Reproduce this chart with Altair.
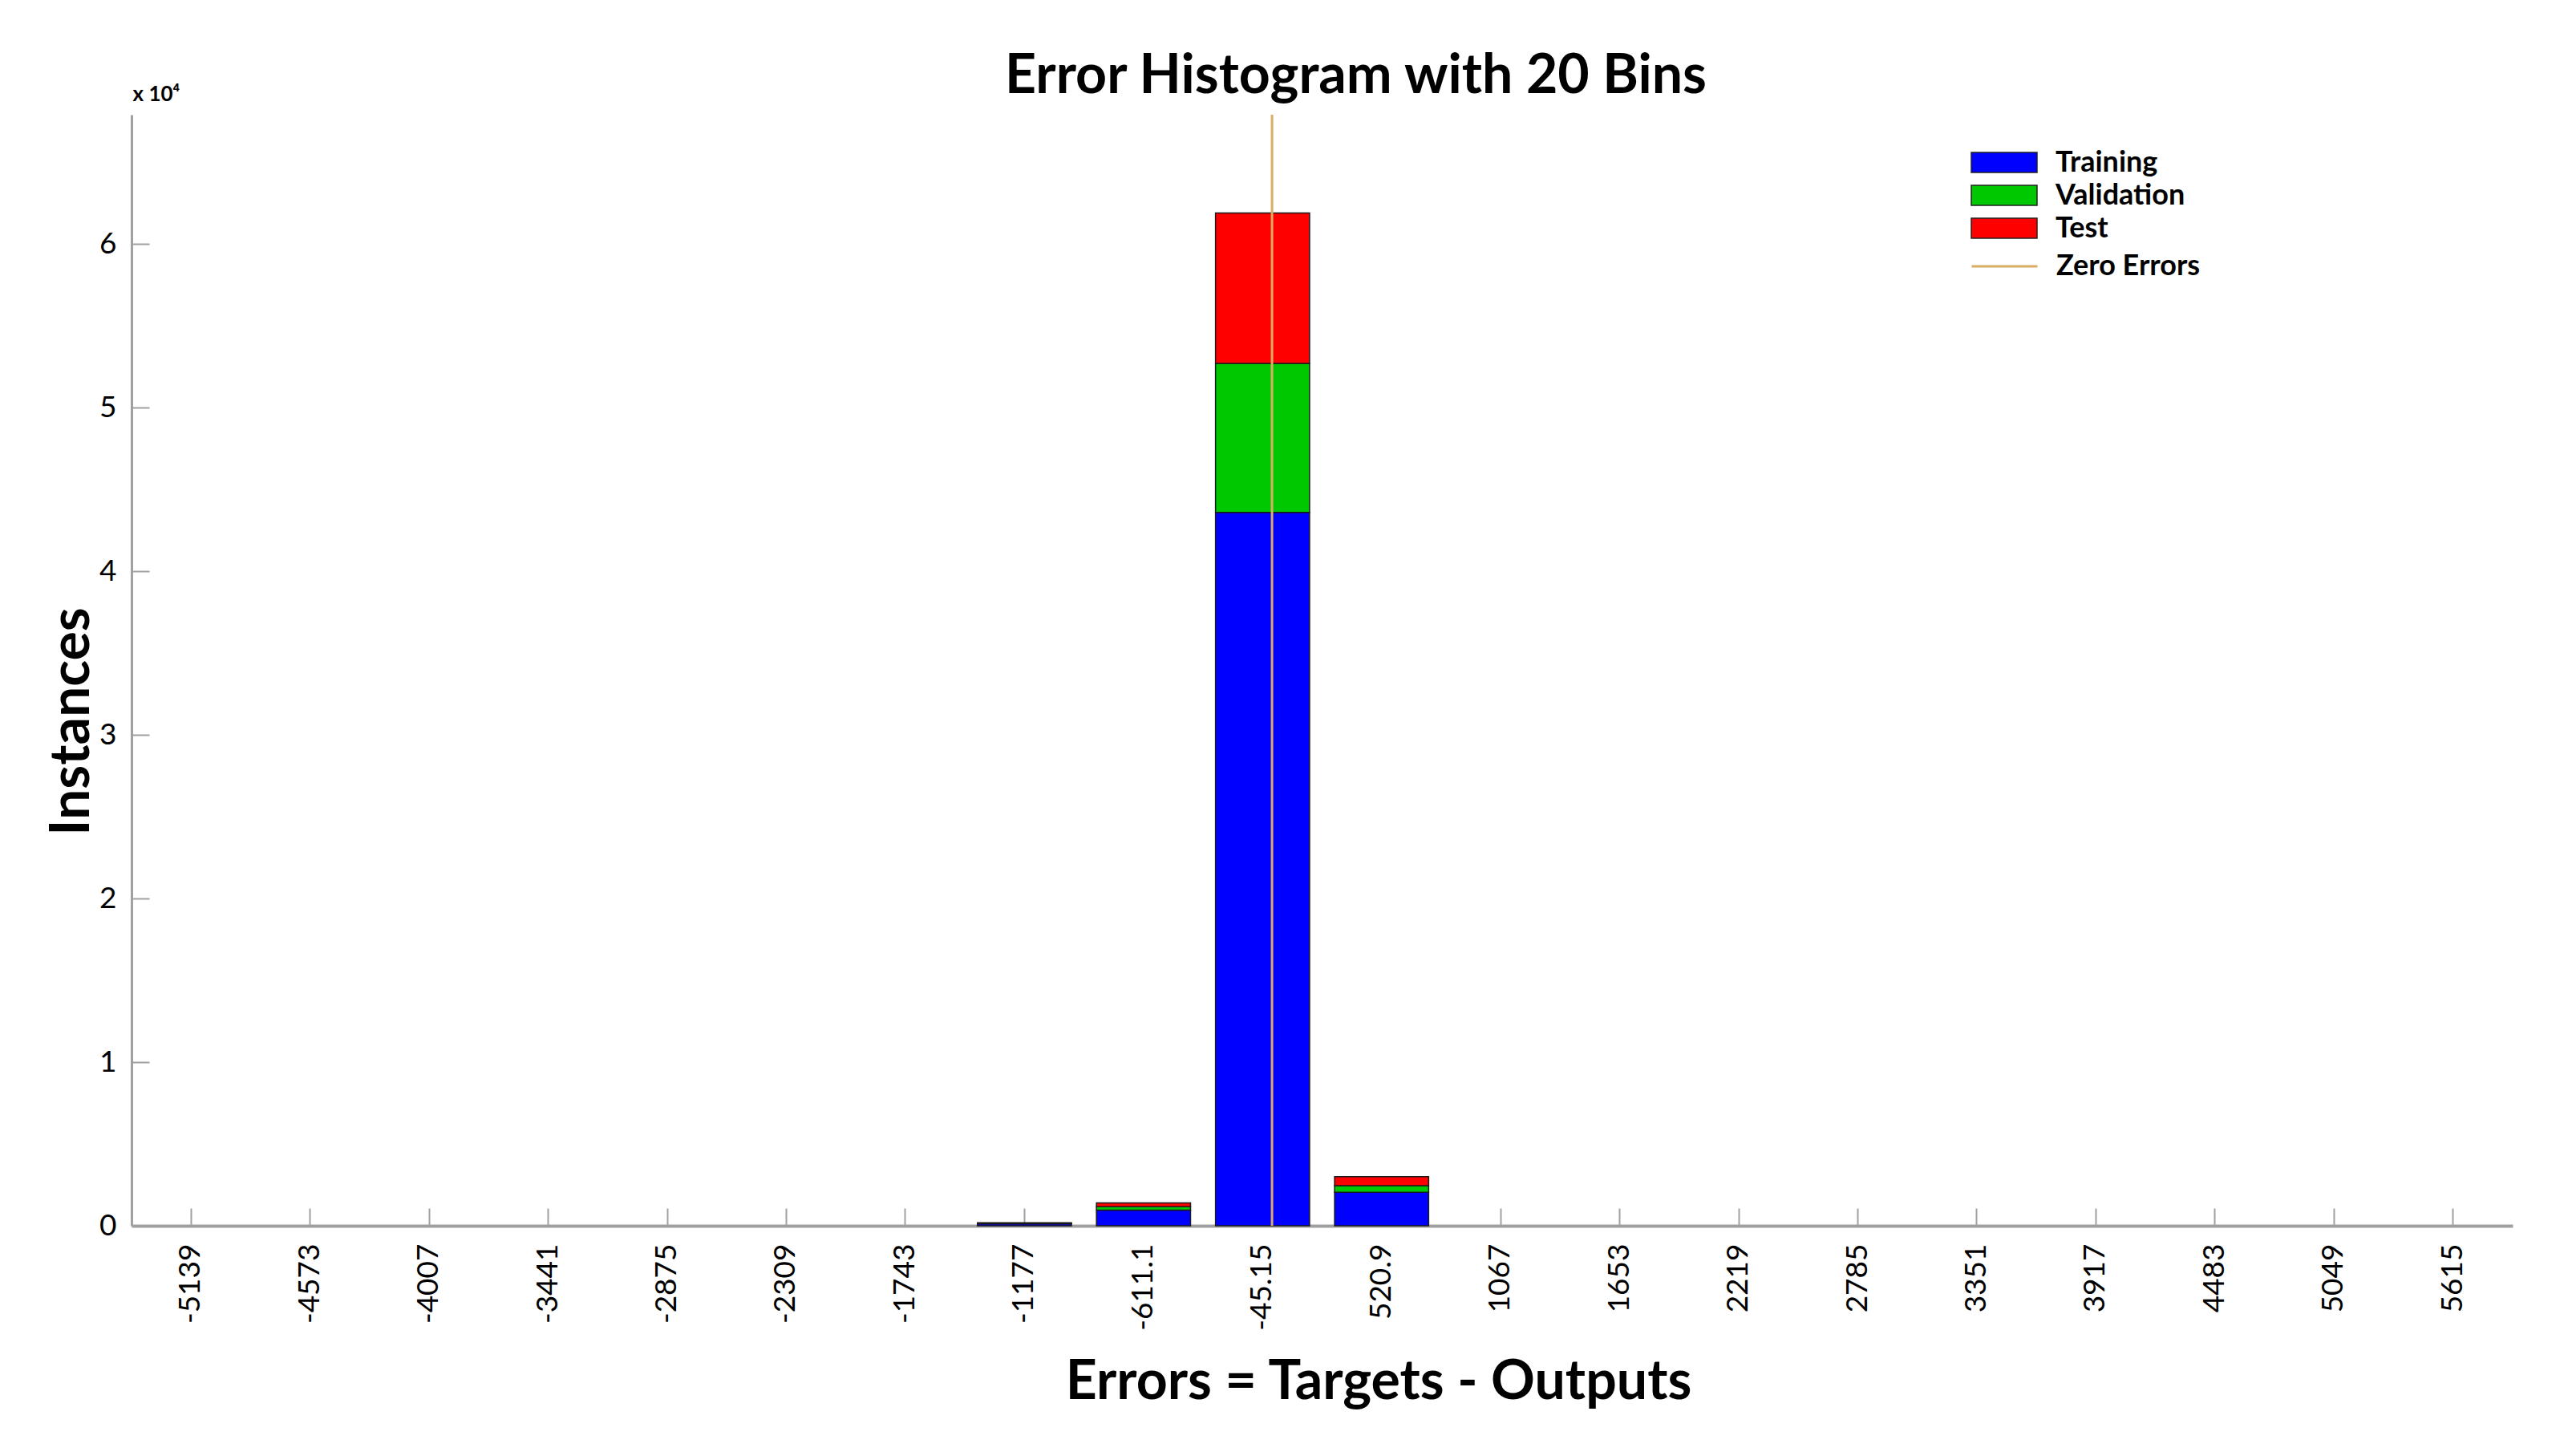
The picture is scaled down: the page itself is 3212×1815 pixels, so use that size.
import altair as alt
import pandas as pd

# ---- data ----
bin_labels = ["-5139", "-4573", "-4007", "-3441", "-2875", "-2309", "-1743",
              "-1177", "-611.1", "-45.15", "520.9", "1067", "1653", "2219",
              "2785", "3351", "3917", "4483", "5049", "5615"]
training   = [0, 0, 0, 0, 0, 0, 0, 120, 950, 43600, 2050, 0, 0, 0, 0, 0, 0, 0, 0, 0]
validation = [0, 0, 0, 0, 0, 0, 0, 30, 220, 9100, 400, 0, 0, 0, 0, 0, 0, 0, 0, 0]
test       = [0, 0, 0, 0, 0, 0, 0, 30, 230, 9200, 550, 0, 0, 0, 0, 0, 0, 0, 0, 0]
series_names = ["Training", "Validation", "Test"]
series_colors = ["#0000FF", "#00C800", "#FF0000"]
zero_error = [0.0]
zero_label = ["Zero Errors"]
error_domain = [-5422, 5898]
y_ticks = [0, 10000, 20000, 30000, 40000, 50000, 60000]
y_max = 67900

rows = []
for i, b in enumerate(bin_labels):
    for k, (name, vals) in enumerate(zip(series_names, [training, validation, test])):
        rows.append({"bin": b, "series": name, "ord": k, "count": vals[i]})
df = pd.DataFrame(rows)
zdf = pd.DataFrame({"error": zero_error, "line": zero_label})

W, H = 2969, 1385
FONT = "Lato, sans-serif"
GRAY = "#A0A0A0"
GOLD = "#D9AE62"
TFS = 68
rect_path = "M-2.05,-0.62H2.05V0.62H-2.05Z"
line_path = "M-2.05,0H2.05"

xscale = alt.Scale(domain=bin_labels, paddingInner=0.21, paddingOuter=0.105)
yscale = alt.Scale(domain=[0, y_max], nice=False, zero=True)

base = alt.Chart(df).transform_filter("datum.count > 0")

# invisible layer that carries inward-pointing ticks and the "x 10^4" label
ticks = base.mark_bar(opacity=0).encode(
    x=alt.X("bin:N", sort=bin_labels, scale=xscale,
            axis=alt.Axis(orient="top", offset=-H, labels=False, domain=False,
                          ticks=True, tickSize=22, tickColor=GRAY, tickWidth=2,
                          grid=False, title=None)),
    y=alt.Y("count:Q", stack="zero", scale=yscale,
            axis=alt.Axis(orient="right", offset=-W, values=y_ticks, labels=False,
                          domain=False, ticks=True, tickSize=22, tickColor=GRAY,
                          tickWidth=2, grid=False,
                          title="x 10⁴", titleAngle=0, titleX=1, titleY=-26,
                          titleAlign="left", titleBaseline="middle", titleFont=FONT,
                          titleFontSize=26, titleFontWeight="bold", titleColor="black")),
    order=alt.Order("ord:Q"),
)

bars = base.mark_bar(stroke="#1a1a1a", strokeWidth=1.5).encode(
    x=alt.X("bin:N", sort=bin_labels, scale=xscale,
            axis=alt.Axis(orient="bottom", labelAngle=270, labelFont=FONT,
                          labelFontSize=37, labelColor="black", labelPadding=22,
                          ticks=False, tickSize=0, domainColor=GRAY, domainWidth=4,
                          grid=False, title="Errors = Targets - Outputs",
                          titleFont=FONT, titleFontSize=TFS, titleFontWeight="bold",
                          titleColor="black", titleX=W / 2 + 70, titleY=215,
                          titleBaseline="alphabetic", titleAlign="center")),
    y=alt.Y("count:Q", stack="zero", scale=yscale,
            axis=alt.Axis(orient="left", values=y_ticks,
                          labelExpr="datum.value / 10000", labelFont=FONT,
                          labelFontSize=37, labelColor="black", labelPadding=19,
                          ticks=False, tickSize=0, domainColor=GRAY, domainWidth=3,
                          grid=False, title="Instances", titleFont=FONT,
                          titleFontSize=TFS, titleFontWeight="bold", titleColor="black",
                          titleAngle=270, titleX=-74, titleY=756, titleAlign="center",
                          titleBaseline="middle")),
    color=alt.Color("series:N", scale=alt.Scale(domain=series_names, range=series_colors),
                    legend=alt.Legend(title=None, orient="none", legendX=2314, legendY=38.5,
                                      symbolType=rect_path, symbolSize=1600,
                                      symbolStrokeColor="#222222", symbolStrokeWidth=1.5,
                                      symbolOpacity=1, labelLimit=0,
                                      labelFont=FONT, labelFontSize=36,
                                      labelFontWeight="bold", labelColor="black",
                                      labelOffset=43, rowPadding=2, padding=0)),
    order=alt.Order("ord:Q"),
)

zero = alt.Chart(zdf).mark_rule(color=GOLD, strokeWidth=3).encode(
    x=alt.X("error:Q", scale=alt.Scale(domain=error_domain, nice=False, zero=False),
            axis=None),
    strokeDash=alt.StrokeDash("line:N",
                              scale=alt.Scale(domain=zero_label, range=[[1, 0]]),
                              legend=alt.Legend(title=None, orient="none", legendX=2314,
                                                legendY=167.5, symbolType=line_path,
                                                symbolSize=1600, symbolStrokeColor=GOLD,
                                                symbolStrokeWidth=3, labelFont=FONT,
                                                labelFontSize=36, labelFontWeight="bold",
                                                labelColor="black", labelOffset=43,
                                                labelLimit=0, padding=0)),
)

chart = (
    alt.layer(ticks, bars, zero)
    .resolve_scale(x="independent")
    .resolve_axis(y="independent")
    .properties(
        width=W, height=H,
        autosize=alt.AutoSizeParams(type="none"),
        padding={"left": 156, "top": 135, "right": 71, "bottom": 279},
        view=alt.ViewBackground(stroke="transparent", strokeWidth=0, strokeOpacity=0),
        title=alt.TitleParams("Error Histogram with 20 Bins", font=FONT, fontSize=TFS,
                              fontWeight="bold", color="black", anchor="middle",
                              frame="group", dx=42, offset=0, dy=80,
                              baseline="alphabetic"),
    )
    .configure_view(stroke="transparent", strokeWidth=0, strokeOpacity=0)
    .configure(background="white")
)

chart.save("out.html", embed_options={"renderer": "svg", "actions": False})
